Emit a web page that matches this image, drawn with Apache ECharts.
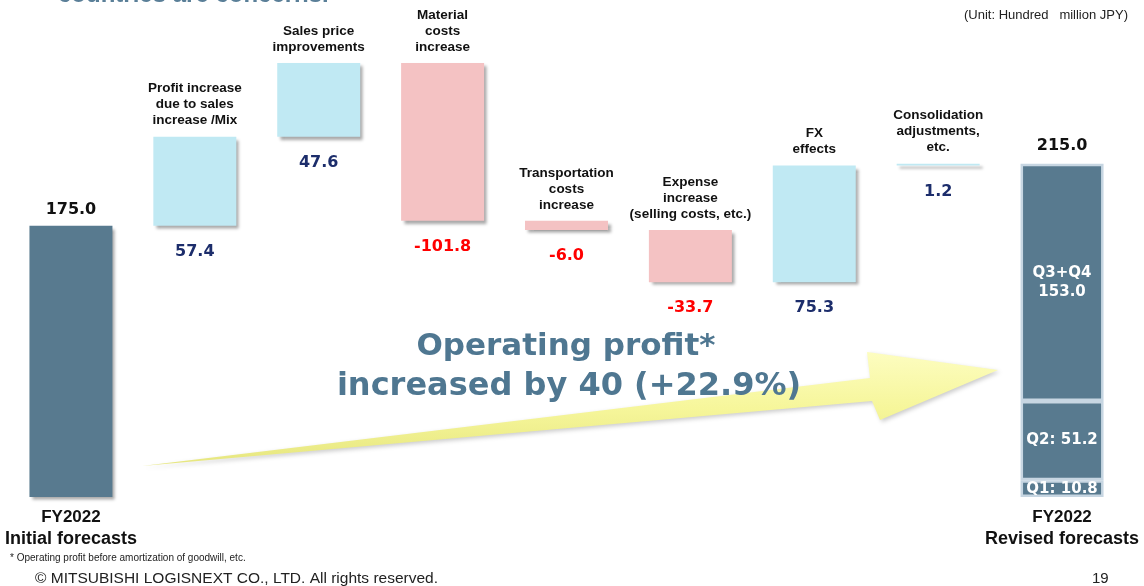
<!DOCTYPE html>
<html>
<head>
<meta charset="utf-8">
<script src="https://cdn.jsdelivr.net/npm/echarts@6/dist/echarts.min.js"></script>
<style>
html,body{margin:0;padding:0;background:#fff;}
#chart{width:1144px;height:586px;}
</style>
</head>
<body>
<div id="chart"></div>
<script>
// ---- data ----
const categories = [
  'FY2022\nInitial forecasts',
  'Profit increase\ndue to sales\nincrease /Mix',
  'Sales price\nimprovements',
  'Material\ncosts\nincrease',
  'Transportation\ncosts\nincrease',
  'Expense\nincrease\n(selling costs, etc.)',
  'FX\neffects',
  'Consolidation\nadjustments,\netc.',
  'FY2022\nRevised forecasts'
];
const initialValue = 175.0;
const changes = [57.4, 47.6, -101.8, -6.0, -33.7, 75.3, 1.2];
const revisedQuarterLabels = ['Q1', 'Q2', 'Q3+Q4'];
const revisedQuarters = [10.8, 51.2, 153.0];
const revisedTotal = 215.0;

// ---- build waterfall ----
const n = categories.length;
const blank = () => new Array(n).fill('-');
const totalData = blank();
totalData[0] = initialValue;
const baseData = blank();
const changeData = blank();
let cum = initialValue;
changes.forEach((d, i) => {
  const next = +(cum + d).toFixed(1);
  const neg = d < 0;
  baseData[i + 1] = {
    value: Math.min(cum, next),
    label: { formatter: d.toFixed(1), color: neg ? '#ff0000' : '#1c2d6b' }
  };
  changeData[i + 1] = {
    value: Math.abs(d),
    itemStyle: { color: neg ? '#f4c2c3' : '#c0e9f3' }
  };
  cum = next;
});

const darkBar = '#587a8f';
const shadow = { shadowBlur: 3, shadowOffsetX: 3, shadowOffsetY: 3, shadowColor: 'rgba(0,0,0,0.35)' };
const numFont = 'DejaVu Sans';
const txtFont = 'Liberation Sans';

const quarterSeries = revisedQuarters.map((v, qi) => {
  const d = blank();
  d[n - 1] = v;
  return {
    name: revisedQuarterLabels[qi],
    type: 'bar', stack: 'w', barWidth: 83, data: d, silent: true,
    itemStyle: { color: darkBar, borderColor: '#c7d6e2', borderWidth: 2.5 },
    label: {
      show: true, position: 'inside', color: '#fff',
      fontFamily: numFont, fontWeight: 'bold', fontSize: 15, lineHeight: 19,
      formatter: qi === revisedQuarters.length - 1
        ? revisedQuarterLabels[qi] + '\n' + v.toFixed(1)
        : revisedQuarterLabels[qi] + ': ' + v.toFixed(1)
    }
  };
});
const topLabel = blank();
topLabel[n - 1] = 0;

const option = {
  animation: false,
  grid: { left: 9, right: 20, top: 32, bottom: 89 },
  xAxis: {
    type: 'category', data: categories,
    axisLine: { show: false }, axisTick: { show: false },
    axisLabel: {
      interval: 0, margin: 9,
      formatter: (v, i) => {
        if (i !== 0 && i !== n - 1) return '';
        const parts = v.split('\n');
        return '{a|' + parts[0] + '}\n{b|' + parts[1] + '}';
      },
      rich: {
        a: { fontFamily: txtFont, fontWeight: 'bold', fontSize: 17, color: '#111', lineHeight: 22, align: 'center' },
        b: { fontFamily: txtFont, fontWeight: 'bold', fontSize: 18, color: '#111', lineHeight: 22, align: 'center' }
      }
    }
  },
  yAxis: { type: 'value', min: 0, max: 300, show: false, splitLine: { show: false } },
  series: [
    {
      name: 'Initial', type: 'bar', stack: 'w', barWidth: 83, data: totalData, silent: true,
      itemStyle: Object.assign({ color: darkBar }, shadow),
      label: {
        show: true, position: 'top', distance: 8, color: '#111',
        fontFamily: numFont, fontWeight: 'bold', fontSize: 16,
        formatter: p => p.value.toFixed(1)
      }
    },
    {
      name: 'Base', type: 'bar', stack: 'w', barWidth: 83, data: baseData, silent: true,
      itemStyle: { color: 'rgba(0,0,0,0)' },
      label: {
        show: true, position: 'insideTop', distance: 18,
        fontFamily: numFont, fontWeight: 'bold', fontSize: 16
      }
    },
    {
      name: 'Change', type: 'bar', stack: 'w', barWidth: 83, data: changeData, silent: true,
      itemStyle: shadow,
      label: {
        show: true, position: 'top', distance: 8, color: '#111',
        fontFamily: txtFont, fontWeight: 'bold', fontSize: 13.5, lineHeight: 16, align: 'center',
        formatter: p => categories[p.dataIndex]
      }
    },
    ...quarterSeries,
    {
      name: 'RevisedTotal', type: 'bar', stack: 'w', barWidth: 83, data: topLabel, silent: true,
      itemStyle: { color: 'rgba(0,0,0,0)' },
      label: {
        show: true, position: 'top', distance: 10, color: '#111',
        fontFamily: numFont, fontWeight: 'bold', fontSize: 16,
        formatter: () => revisedTotal.toFixed(1)
      }
    }
  ],
  graphic: [
    {
      type: 'text', left: 58, top: -17, silent: true,
      style: { text: 'countries are concerns.', font: 'bold 24px "Liberation Sans", Arial, sans-serif', fill: '#5a7f98' }
    },
    {
      type: 'text', right: 16, top: 9, silent: true,
      style: { text: '(Unit: Hundred   million JPY)', font: '13px "Liberation Sans", Arial, sans-serif', fill: '#222' }
    },
    {
      type: 'polygon', silent: true, z: 50,
      shape: { points: [[142, 466], [870, 378], [867, 352], [998, 370], [880, 420], [872, 401]] },
      style: {
        fill: { type: 'linear', x: 0, y: 0, x2: 0, y2: 1, colorStops: [
          { offset: 0, color: '#fdfdc0' }, { offset: 0.5, color: '#f6f69a' }, { offset: 1, color: '#e6e67e' }] },
        shadowBlur: 4, shadowOffsetX: 2, shadowOffsetY: 2, shadowColor: 'rgba(0,0,0,0.2)'
      }
    },
    {
      type: 'text', x: 566, y: 347, silent: true, z: 60,
      style: { text: 'Operating profit*', font: 'bold 31px "DejaVu Sans", sans-serif', fill: '#4f7791', align: 'center', verticalAlign: 'middle' }
    },
    {
      type: 'text', x: 569, y: 387, silent: true, z: 60,
      style: { text: 'increased by 40 (+22.9%)', font: 'bold 32px "DejaVu Sans", sans-serif', fill: '#4f7791', align: 'center', verticalAlign: 'middle' }
    },
    {
      type: 'text', left: 10, top: 553, silent: true,
      style: { text: '* Operating profit before amortization of goodwill, etc.', font: '10px "Liberation Sans", Arial, sans-serif', fill: '#222' }
    },
    {
      type: 'text', left: 35, top: 571, silent: true,
      style: { text: '© MITSUBISHI LOGISNEXT CO., LTD. All rights reserved.', font: '15.5px "Liberation Sans", Arial, sans-serif', fill: '#222' }
    },
    {
      type: 'text', left: 1092, top: 571, silent: true,
      style: { text: '19', font: '15px "Liberation Sans", Arial, sans-serif', fill: '#222' }
    }
  ]
};
echarts.init(document.getElementById('chart'), null, { renderer: 'canvas' }).setOption(option);
</script>
</body>
</html>
